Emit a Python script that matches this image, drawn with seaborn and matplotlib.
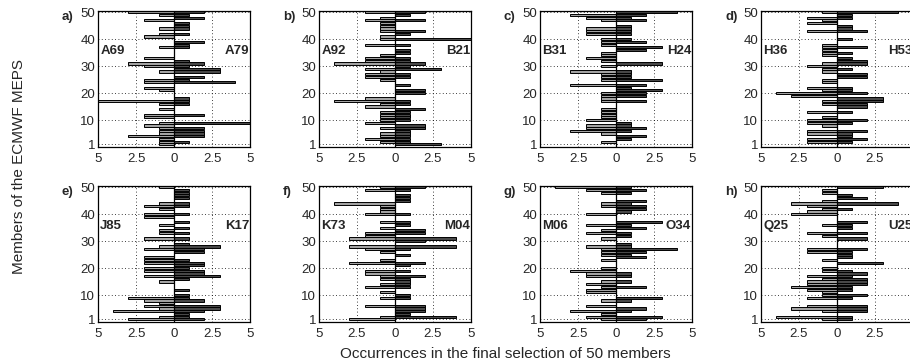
"""
Occurrences of ECMWF MEPS members in the final selection, eight mirrored bar panels.
"""

import numpy as np
import matplotlib
matplotlib.use("Agg")
import matplotlib.pyplot as plt
import seaborn as sns

members = np.arange(1, 51)

panel_tags = ['a)', 'b)', 'c)', 'd)', 'e)', 'f)', 'g)', 'h)']
left_names = ['A69', 'A92', 'B31', 'H36', 'J85', 'K73', 'M06', 'Q25']
right_names = ['A79', 'B21', 'H24', 'H53', 'K17', 'M04', 'O34', 'U25']

# occurrences per member (member 1 ... 50), left and right of each panel
a_left = [1, 1, 1, 3, 1, 1, 1, 2, 1, 0, 2, 2, 0, 1, 0, 1, 5, 0, 0, 0, 1, 2, 0, 2, 2,
          0, 0, 1, 0, 2, 3, 0, 2, 0, 0, 0, 1, 0, 0, 0, 2, 1, 0, 1, 0, 0, 2, 0, 1, 3]
a_right = [0, 1, 0, 2, 2, 2, 2, 0, 5, 0, 0, 2, 0, 0, 0, 1, 1, 1, 0, 0, 0, 0, 0, 4, 1,
           2, 0, 3, 3, 1, 2, 1, 0, 0, 0, 0, 1, 1, 2, 0, 0, 1, 0, 1, 1, 1, 0, 2, 1, 2]
b_left = [0, 1, 2, 1, 1, 0, 1, 0, 2, 1, 1, 1, 1, 0, 2, 1, 4, 2, 0, 0, 0, 0, 0, 0, 1,
          2, 2, 1, 2, 0, 4, 2, 2, 1, 0, 0, 0, 2, 0, 1, 1, 0, 1, 1, 1, 1, 2, 1, 0, 2]
b_right = [3, 1, 1, 1, 1, 1, 2, 2, 0, 1, 1, 1, 1, 2, 0, 1, 1, 0, 0, 2, 2, 0, 1, 0, 0,
           1, 1, 0, 3, 1, 2, 1, 1, 0, 1, 1, 0, 1, 0, 5, 0, 1, 2, 0, 0, 0, 2, 0, 1, 2]
c_left = [0, 1, 0, 0, 1, 3, 2, 2, 0, 2, 1, 1, 1, 1, 0, 0, 1, 1, 1, 1, 0, 0, 3, 0, 1,
          1, 1, 3, 0, 1, 0, 1, 2, 1, 1, 0, 0, 1, 1, 1, 0, 2, 2, 2, 0, 0, 1, 2, 3, 0]
c_right = [0, 0, 1, 2, 0, 1, 2, 1, 1, 0, 0, 0, 0, 0, 0, 0, 2, 0, 2, 2, 3, 1, 2, 0, 3,
           1, 1, 1, 0, 0, 3, 0, 0, 0, 0, 2, 3, 0, 2, 1, 0, 1, 1, 1, 1, 0, 2, 1, 2, 4]
d_left = [0, 2, 2, 0, 2, 2, 0, 1, 2, 2, 1, 0, 2, 0, 0, 1, 1, 0, 3, 4, 1, 2, 0, 1, 1,
          0, 0, 1, 1, 2, 1, 0, 0, 1, 1, 1, 1, 1, 0, 0, 0, 0, 2, 0, 0, 2, 1, 2, 0, 1]
d_right = [0, 1, 2, 1, 1, 2, 0, 0, 1, 2, 0, 0, 1, 0, 2, 2, 3, 3, 0, 2, 1, 1, 0, 0, 0,
           2, 2, 0, 1, 0, 2, 2, 1, 0, 1, 0, 2, 0, 0, 1, 0, 0, 2, 1, 1, 0, 0, 1, 1, 4]
e_left = [3, 1, 0, 4, 1, 2, 1, 2, 3, 0, 0, 0, 0, 0, 1, 0, 2, 0, 2, 2, 0, 2, 2, 2, 0,
          0, 2, 1, 0, 0, 2, 0, 1, 1, 0, 1, 0, 0, 2, 2, 0, 1, 2, 1, 0, 0, 0, 0, 0, 1]
e_right = [2, 1, 1, 2, 3, 3, 0, 2, 1, 1, 0, 1, 0, 0, 0, 1, 3, 2, 2, 1, 2, 2, 1, 0, 0,
           2, 2, 3, 1, 0, 1, 0, 1, 0, 1, 0, 1, 0, 0, 1, 0, 0, 1, 1, 0, 1, 1, 1, 1, 0]
f_left = [3, 1, 0, 0, 0, 2, 0, 0, 1, 0, 1, 0, 2, 1, 0, 1, 1, 2, 2, 0, 0, 3, 1, 0, 0,
          1, 2, 3, 0, 0, 3, 2, 2, 0, 1, 0, 1, 0, 0, 2, 1, 1, 1, 4, 0, 0, 0, 0, 2, 1]
f_right = [0, 4, 1, 2, 2, 2, 0, 0, 1, 1, 0, 0, 1, 1, 1, 1, 2, 0, 1, 0, 1, 2, 0, 0, 1,
           0, 1, 4, 0, 2, 4, 0, 2, 2, 0, 1, 1, 0, 0, 1, 0, 0, 0, 0, 1, 1, 1, 0, 1, 2]
g_left = [1, 2, 1, 3, 0, 2, 0, 1, 0, 0, 2, 2, 1, 2, 1, 0, 2, 2, 3, 1, 0, 0, 1, 0, 1,
          1, 1, 2, 0, 0, 1, 0, 2, 1, 0, 2, 0, 0, 0, 2, 0, 0, 1, 1, 0, 0, 0, 1, 2, 4]
g_right = [2, 3, 0, 1, 2, 0, 0, 1, 3, 0, 0, 0, 2, 0, 1, 0, 1, 1, 0, 0, 0, 0, 0, 2, 1,
           2, 4, 1, 1, 0, 0, 1, 1, 0, 2, 1, 3, 0, 0, 0, 1, 2, 2, 1, 2, 0, 0, 1, 2, 1]
h_left = [1, 4, 0, 1, 3, 2, 0, 0, 2, 1, 1, 2, 3, 2, 2, 1, 2, 0, 1, 1, 0, 0, 1, 0, 0,
          2, 2, 0, 0, 0, 0, 1, 2, 0, 0, 1, 0, 0, 0, 3, 2, 1, 2, 3, 1, 0, 0, 1, 1, 0]
h_right = [1, 1, 0, 2, 2, 2, 0, 0, 1, 2, 0, 1, 1, 2, 2, 2, 1, 2, 1, 0, 0, 3, 0, 1, 1,
           1, 2, 0, 0, 0, 2, 0, 2, 0, 1, 1, 2, 0, 0, 0, 0, 1, 0, 4, 0, 2, 1, 0, 0, 3]

lefts = [a_left, b_left, c_left, d_left, e_left, f_left, g_left, h_left]
rights = [a_right, b_right, c_right, d_right, e_right, f_right, g_right, h_right]

x_ticks = [-5, -2.5, 0, 2.5, 5]
x_ticklabels = ['5', '2.5', '0', '2.5', '5']
y_ticks = [1, 10, 20, 30, 40, 50]


def main():
    sns.set_style('white')
    plt.rcParams['font.family'] = ['Liberation Sans', 'DejaVu Sans']
    plt.rcParams['font.size'] = 9.5

    fig = plt.figure(figsize=(9.1, 3.64), dpi=100)
    W, H = 910.0, 364.0
    col_left = [98, 319, 540, 761]
    row_top = [10.7, 185.7]
    ax_w, ax_h = 152, 136

    for i in range(8):
        r, c = divmod(i, 4)
        x0 = col_left[c]
        ax = fig.add_axes([x0 / W, 1 - (row_top[r] + ax_h) / H, ax_w / W, ax_h / H])
        ax.set_axisbelow(True)

        sns.barplot(x=-np.array(lefts[i]), y=members, orient='y', native_scale=True,
                    color='#a3a3a3', saturation=1, edgecolor='black', linewidth=0.7,
                    width=0.8, errorbar=None, ax=ax)
        sns.barplot(x=np.array(rights[i]), y=members, orient='y', native_scale=True,
                    color='#484848', saturation=1, edgecolor='black', linewidth=0.7,
                    width=0.8, errorbar=None, ax=ax)
        ax.axvline(0, color='black', lw=0.9, zorder=5)

        ax.set_xlim(-5, 5)
        ax.set_ylim(0.1, 50.6)
        ax.set_xticks(x_ticks)
        ax.set_xticklabels(x_ticklabels)
        ax.set_yticks(y_ticks)
        ax.set_xlabel('')
        ax.set_ylabel('')
        ax.tick_params(direction='in', length=2, width=0.6, labelsize=9.5, color='black')
        ax.tick_params(axis='x', pad=4.5)
        ax.tick_params(axis='y', pad=2)
        ax.grid(True, color='black', linestyle=(0, (1, 3)), linewidth=0.6)
        for sp in ax.spines.values():
            sp.set_visible(True)
            sp.set_color('black')
            sp.set_linewidth(0.9)

        ax.text(0.015, 0.705, left_names[i], transform=ax.transAxes, ha='left',
                va='center', fontsize=9.5, fontweight='bold')
        ax.text(0.995, 0.705, right_names[i], transform=ax.transAxes, ha='right',
                va='center', fontsize=9.5, fontweight='bold')
        fig.text((x0 - 36) / W, 1 - (row_top[r] + 6) / H, panel_tags[i],
                 ha='left', va='center', fontsize=9.5, fontweight='bold')

    fig.text(19 / W, 1 - 166 / H, 'Members of the ECMWF MEPS', rotation=90,
             ha='center', va='center', fontsize=11)
    fig.text(505 / W, 1 - 354 / H, 'Occurrences in the final selection of 50 members',
             ha='center', va='center', fontsize=11)

    fig.savefig('out.png', dpi=100)


if __name__ == "__main__":
    main()
